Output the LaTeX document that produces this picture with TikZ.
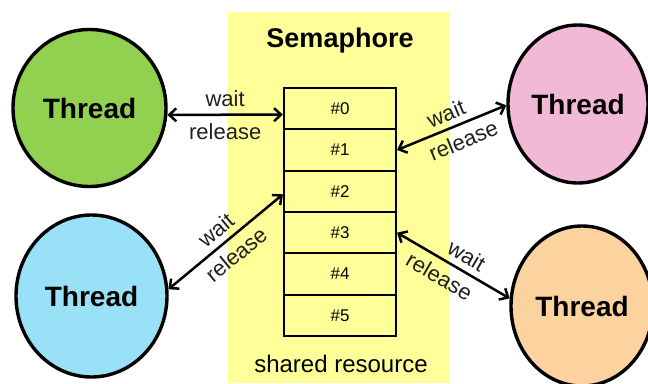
\documentclass[tikz,border=0pt]{standalone}
\usepackage{fontspec}
\setmainfont{Liberation Sans}
\usetikzlibrary{arrows.meta,shapes.geometric}
\definecolor{semyellow}{HTML}{FFFF99}
\definecolor{thgreen}{HTML}{92D050}
\definecolor{thblue}{HTML}{99E1F7}
\definecolor{thpink}{HTML}{F2B9D6}
\definecolor{thorange}{HTML}{FCD39E}
\definecolor{lbl}{HTML}{202020}
\tikzset{
  thread/.style={ellipse, draw=black, line width=3.4pt, inner sep=0pt,
    font=\fontsize{28}{30}\selectfont\bfseries},
  slot/.style={rectangle, draw=black, line width=2.2pt, fill=semyellow,
    minimum width=112pt, minimum height=41.33pt, inner sep=0pt,
    font=\fontsize{17}{19}\selectfont},
  link/.style={line width=2.5pt, {Straight Barb[length=7pt,width=13pt]}-{Straight Barb[length=7pt,width=13pt]}},
  wlab/.style={sloped, midway, inner sep=0pt, text=lbl, font=\fontsize{22}{24}\selectfont},
}
\begin{document}
\begin{tikzpicture}[x=1pt,y=-1pt]
\useasboundingbox (0,0) rectangle (648,383);
\fill[semyellow] (228,12) rectangle (450,383);
\node[font=\fontsize{27}{29}\selectfont\bfseries] (title) at (340,41) {Semaphore};
\node[font=\fontsize{24}{26}\selectfont] (shared) at (341,364) {shared resource};
\foreach \i in {0,...,5} {
  \node[slot] (r\i) at (340,{88+41.33*\i+20.67}) {\#\i};
}
\node[thread, fill=thgreen, minimum width=153pt, minimum height=157pt] (g) at (89.5,108) {Thread};
\node[thread, fill=thblue, minimum width=151pt, minimum height=162pt] (b) at (91.5,296) {Thread};
\node[thread, fill=thpink, minimum width=140pt, minimum height=158pt] (p) at (578,104) {Thread};
\node[thread, fill=thorange, minimum width=142pt, minimum height=160pt] (o) at (582,306) {Thread};

\draw[link] (g.-5) -- ([yshift=-6pt]r0.west)
  node[wlab, above=7pt] {wait} node[wlab, below=8pt] {release};
\draw[link] (r1.east) -- (p.181)
  node[wlab, above=6pt] {wait} node[wlab, below=7pt, pos=0.55] {release};
\draw[link] (b.5) -- ([yshift=-3pt]r2.west)
  node[wlab, above=6pt] {wait} node[wlab, below=7pt] {release};
\draw[link] (r3.east) -- (o.174)
  node[wlab, above=6pt, pos=0.55] {wait} node[wlab, below=7pt, pos=0.45] {release};
\end{tikzpicture}
\end{document}
